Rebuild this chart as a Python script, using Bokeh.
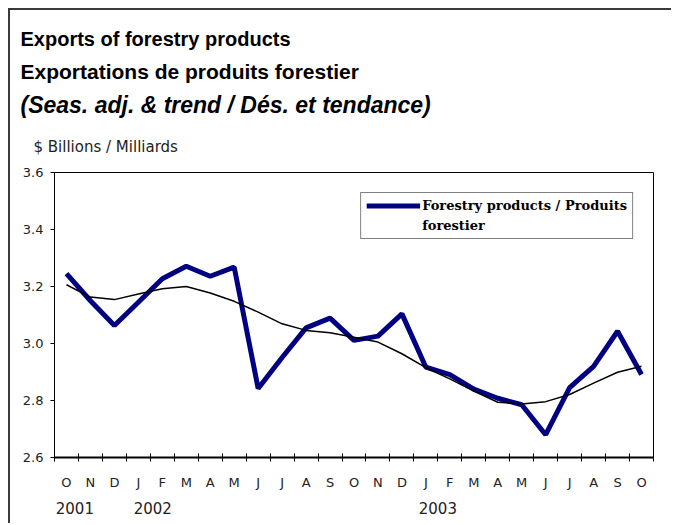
from bokeh.plotting import figure
from bokeh.models import (Range1d, FixedTicker, LinearAxis, Legend, LegendItem,
                          Title, PrintfTickFormatter)
from bokeh.embed import file_html
from bokeh.resources import INLINE

# ---- data ----
months = ["O", "N", "D", "J", "F", "M", "A", "M", "J", "J", "A", "S",
          "O", "N", "D", "J", "F", "M", "A", "M", "J", "J", "A", "S", "O"]
forestry = [3.245, 3.150, 3.063, 3.145, 3.227, 3.271, 3.236, 3.268, 2.842,
            2.951, 3.055, 3.089, 3.011, 3.026, 3.104, 2.917, 2.891, 2.840,
            2.808, 2.785, 2.680, 2.845, 2.920, 3.043, 2.891]
trend = [3.206, 3.163, 3.154, 3.174, 3.192, 3.200, 3.177, 3.148, 3.110,
         3.069, 3.046, 3.038, 3.022, 3.005, 2.964, 2.915, 2.876, 2.833,
         2.794, 2.788, 2.796, 2.821, 2.861, 2.899, 2.920]
years = ["2001", "2002", "2003"]
year_pos = [0.35, 3.6, 15.5]
y_ticks = [2.6, 2.8, 3.0, 3.2, 3.4, 3.6]
legend_lines = ["Forestry products / Produits", "forestier"]

x = list(range(len(months)))
bounds = [i - 0.5 for i in range(len(months) + 1)]

p = figure(width=663, height=515, output_backend="svg", toolbar_location=None,
           x_range=Range1d(-0.5, len(months) - 0.5), y_range=Range1d(2.6, 3.6),
           min_border_left=44, min_border_right=20, min_border_top=162,
           min_border_bottom=68, x_axis_type=None, y_axis_type=None)
p.styles = {"margin-left": "8px", "margin-top": "8px",
            "border-top": "2px solid #3a3a3a", "border-left": "2px solid #3a3a3a"}
p.xgrid.visible = False
p.ygrid.visible = False
p.outline_line_color = "black"
p.outline_line_width = 1
p.background_fill_color = "white"
p.border_fill_color = "white"

label_font = "DejaVu Sans"
label_color = "#222222"

# y axis
yax = LinearAxis(ticker=FixedTicker(ticks=y_ticks),
                 formatter=PrintfTickFormatter(format="%.1f"))
yax.major_tick_in = 0
yax.major_tick_out = 4
yax.minor_tick_line_color = None
yax.axis_line_color = "black"
yax.major_label_text_font = label_font
yax.major_label_text_font_size = "13px"
yax.major_label_text_color = label_color
yax.major_label_standoff = 7
p.add_layout(yax, "left")

# x axis: month labels at category centres, tick marks at category boundaries
xax = LinearAxis(ticker=FixedTicker(ticks=x, minor_ticks=bounds),
                 major_label_overrides={i: m for i, m in enumerate(months)})
xax.axis_line_width = 2
xax.axis_line_color = "black"
xax.major_tick_line_color = None
xax.major_tick_in = 0
xax.major_tick_out = 0
xax.minor_tick_line_color = "black"
xax.minor_tick_in = 4
xax.minor_tick_out = 4
xax.major_label_text_font = label_font
xax.major_label_text_font_size = "13px"
xax.major_label_text_color = label_color
xax.major_label_standoff = 13
p.add_layout(xax, "below")

# year labels
yx = LinearAxis(ticker=FixedTicker(ticks=year_pos),
                major_label_overrides={v: t for v, t in zip(year_pos, years)})
yx.axis_line_color = None
yx.major_tick_line_color = None
yx.minor_tick_line_color = None
yx.major_tick_in = 0
yx.major_tick_out = 0
yx.major_label_text_font = label_font
yx.major_label_text_font_size = "15px"
yx.major_label_text_color = label_color
yx.major_label_standoff = 9
p.add_layout(yx, "below")

# series
r_f = p.line(x, forestry, line_color="#000080", line_width=5)
r_t = p.line(x, trend, line_color="black", line_width=1.5)
# invisible twin, only used to give the legend's second text line no glyph
r_blank = p.line(x, forestry, line_alpha=0)

legend = Legend(items=[LegendItem(label=legend_lines[0], renderers=[r_f]),
                       LegendItem(label=legend_lines[1], renderers=[r_blank])],
                location="top_right")
legend.margin = 20
legend.padding = 5
legend.spacing = 5
legend.glyph_width = 54
legend.glyph_height = 15
legend.label_height = 15
legend.label_standoff = 2
legend.border_line_color = "black"
legend.border_line_width = 1
legend.label_text_font = "DejaVu Serif"
legend.label_text_font_style = "bold"
legend.label_text_font_size = "13px"
legend.label_text_color = "black"
legend.background_fill_alpha = 1
p.add_layout(legend)

# titles (added nearest to the plot first)
t_y = Title(text="$ Billions / Milliards", align="left", offset=-21,
            text_font=label_font, text_font_size="15px", text_font_style="normal",
            text_color=label_color, standoff=34)
p.add_layout(t_y, "above")
t3 = Title(text="(Seas. adj. & trend / Dés. et tendance)", align="left", offset=-34,
           text_font="Liberation Sans", text_font_size="23px",
           text_font_style="bold italic", text_color="black", standoff=1)
p.add_layout(t3, "above")
t2 = Title(text="Exportations de produits forestier", align="left", offset=-34,
           text_font="Liberation Sans", text_font_size="21px",
           text_font_style="bold", text_color="black", standoff=13)
p.add_layout(t2, "above")
t1 = Title(text="Exports of forestry  products", align="left", offset=-34,
           text_font="Liberation Sans", text_font_size="20px",
           text_font_style="bold", text_color="black", standoff=4)
p.add_layout(t1, "above")

open("out.html", "w").write(file_html(p, INLINE))
